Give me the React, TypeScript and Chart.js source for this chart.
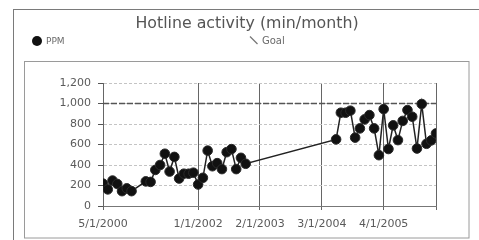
import React, { useEffect, useRef } from "react";
import { Chart, registerables } from "chart.js";

Chart.register(...registerables);

const TITLE = "Hotline activity (min/month)";
const SERIES_PPM = "PPM";
const SERIES_GOAL = "Goal";

const ppmDates = [
  "2000-05", "2000-06", "2000-07", "2000-08", "2000-09", "2000-10", "2000-11",
  "2001-02", "2001-03", "2001-04", "2001-05", "2001-06", "2001-07", "2001-08",
  "2001-09", "2001-10", "2001-11", "2001-12", "2002-01", "2002-02", "2002-03",
  "2002-04", "2002-05", "2002-06", "2002-07", "2002-08", "2002-09", "2002-10",
  "2002-11",
  "2004-06", "2004-07", "2004-08", "2004-09", "2004-10", "2004-11", "2004-12",
  "2005-01", "2005-02", "2005-03", "2005-04", "2005-05", "2005-06", "2005-07",
  "2005-08", "2005-09", "2005-10", "2005-11", "2005-12", "2006-01", "2006-02",
  "2006-03",
];
const ppmValues = [
  218, 162, 248, 215, 145, 172, 145,
  240, 235, 352, 400, 510, 336, 479,
  268, 315, 315, 325, 210, 275, 540,
  388, 418, 360, 525, 555, 360, 470,
  412,
  650, 910, 910, 930, 667, 757, 845,
  887, 757, 496, 945, 556, 787, 643,
  830, 936, 871, 561, 995, 607, 640,
  708,
];

const goalDates = ["2000-05", "2006-03"];
const goalValues = [1000, 1000];

const xTickDates = ["2000-05", "2002-01", "2003-02", "2004-03", "2005-04", "2006-03"];
const xTickLabels = ["5/1/2000", "1/1/2002", "2/1/2003", "3/1/2004", "4/1/2005", ""];
const yTickValues = [0, 200, 400, 600, 800, 1000, 1200];

const monthIndex = (d: string) => {
  const [y, m] = d.split("-").map(Number);
  return (y - 2000) * 12 + (m - 5);
};

const FONT = "'DejaVu Sans', Verdana, sans-serif";

export default function App() {
  const ref = useRef<HTMLCanvasElement | null>(null);

  useEffect(() => {
    if (!ref.current) return;
    const tickMonths = xTickDates.map(monthIndex);

    const decor = {
      id: "decor",
      beforeDraw(chart: any) {
        const ctx = chart.ctx;
        ctx.save();
        ctx.fillStyle = "#ffffff";
        ctx.fillRect(0, 0, chart.width, chart.height);
        ctx.strokeStyle = "#7a7a7a";
        ctx.lineWidth = 1;
        ctx.strokeRect(13.5, 9.5, 480, 240);
        ctx.strokeStyle = "#9a9a9a";
        ctx.strokeRect(24.5, 61.5, 444.5, 176.5);
        ctx.restore();
      },
      afterDraw(chart: any) {
        const ctx = chart.ctx;
        ctx.save();
        ctx.fillStyle = "#555";
        ctx.font = `15.8px ${FONT}`;
        ctx.textAlign = "center";
        ctx.textBaseline = "middle";
        ctx.fillText(TITLE, 247, 24);
        // legend
        ctx.beginPath();
        ctx.arc(37, 41, 5, 0, Math.PI * 2);
        ctx.fillStyle = "#111";
        ctx.fill();
        ctx.font = `9px ${FONT}`;
        ctx.fillStyle = "#6a6a6a";
        ctx.textAlign = "left";
        ctx.fillText(SERIES_PPM, 46, 41.5);
        ctx.beginPath();
        ctx.moveTo(250, 36.5);
        ctx.lineTo(257.5, 44);
        ctx.strokeStyle = "#777";
        ctx.lineWidth = 1.2;
        ctx.stroke();
        ctx.font = `10px ${FONT}`;
        ctx.fillText(SERIES_GOAL, 262, 41.5);
        ctx.restore();
      },
    };

    const chart = new Chart(ref.current, {
      type: "line",
      data: {
        datasets: [
          {
            label: SERIES_PPM,
            data: ppmDates.map((d, i) => ({ x: monthIndex(d), y: ppmValues[i] })),
            borderColor: "#222",
            borderWidth: 1.5,
            backgroundColor: "#111",
            pointBackgroundColor: "#111",
            pointBorderColor: "#2a2a2a",
            pointBorderWidth: 1,
            pointRadius: 4.8,
            tension: 0,
          },
          {
            label: SERIES_GOAL,
            data: goalDates.map((d, i) => ({ x: monthIndex(d), y: goalValues[i] })),
            borderColor: "#555",
            borderWidth: 1.5,
            borderDash: [6, 2],
            pointRadius: 0,
            tension: 0,
          },
        ],
      },
      options: {
        animation: false,
        responsive: false,
        devicePixelRatio: 1,
        layout: { padding: { left: 0, right: 43, top: 83, bottom: 0 } },
        plugins: {
          legend: { display: false },
          title: { display: false },
          tooltip: { enabled: false },
        },
        scales: {
          x: {
            type: "linear",
            min: 0,
            max: 70,
            afterFit: (s: any) => {
              s.height = 34;
            },
            afterBuildTicks: (s: any) => {
              s.ticks = tickMonths.map((v) => ({ value: v }));
            },
            ticks: {
              autoSkip: false,
              maxRotation: 0,
              padding: 8,
              color: "#5a5a5a",
              font: { family: FONT, size: 11 },
              callback: (v: any) => {
                const i = tickMonths.indexOf(Number(v));
                return i >= 0 ? xTickLabels[i] : "";
              },
            },
            grid: {
              color: "#666",
              lineWidth: 1,
              tickLength: 4,
              tickColor: "#666",
            },
            border: { color: "#777", width: 1 },
          },
          y: {
            min: 0,
            max: 1200,
            afterFit: (s: any) => {
              s.width = 103;
            },
            afterBuildTicks: (s: any) => {
              s.ticks = yTickValues.map((v) => ({ value: v }));
            },
            ticks: {
              padding: 7,
              color: "#5a5a5a",
              font: { family: FONT, size: 11 },
              callback: (v: any) => Number(v).toLocaleString("en-US"),
            },
            grid: {
              color: "#c4c4c4",
              lineWidth: 1,
              tickLength: 5,
              tickColor: "#555",
            },
            border: { color: "#666", width: 1, dash: [3, 2] },
          },
        },
      },
      plugins: [decor],
    });
    return () => chart.destroy();
  }, []);

  return (
    <div style={{ position: "absolute", left: 0, top: 0, width: 479, height: 240 }}>
      <canvas ref={ref} width={479} height={240} />
    </div>
  );
}
